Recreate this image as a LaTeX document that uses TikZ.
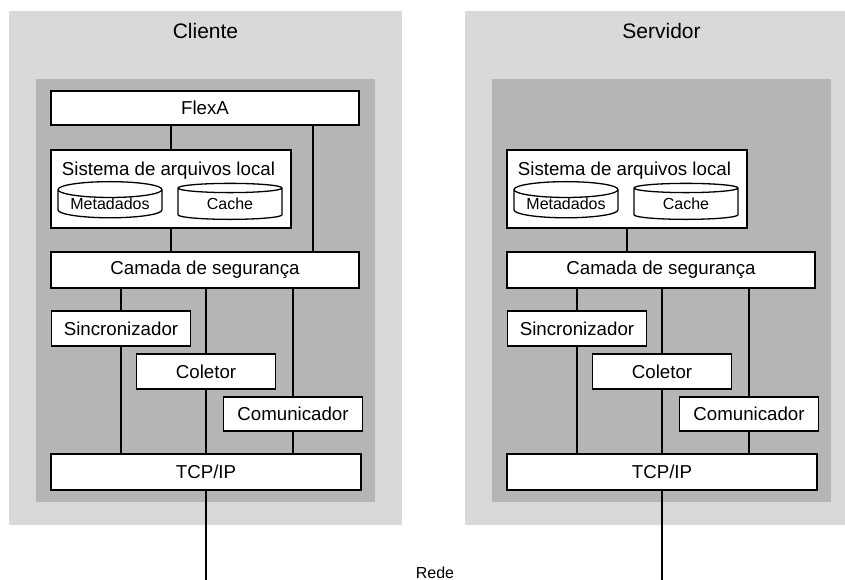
\documentclass[tikz,border=0pt]{standalone}
\usepackage{fontspec}
\setmainfont{Liberation Sans}
\usetikzlibrary{shapes.geometric, calc}
\usepackage{xcolor}

\definecolor{outergray}{HTML}{D9D9D9}
\definecolor{innergray}{HTML}{B5B5B5}

\tikzset{
	box/.style={draw, fill=white, line width=1.3pt, inner sep=0pt, font=\fontsize{18.7}{22}\selectfont},
	disk/.style={cylinder, shape border rotate=90, draw, fill=white, line width=1.3pt, aspect=0.2,
		minimum width=104pt, minimum height=36pt, inner sep=0pt, font=\fontsize{16}{19}\selectfont},
	link/.style={line width=1.4pt},
	title/.style={font=\fontsize{21}{25}\selectfont},
}

\begin{document}
\begin{tikzpicture}[x=1.0pt, y=-1.0pt]
	\useasboundingbox (0,0) rectangle (845,580);

	% Cliente
	\fill [outergray] (9,11) rectangle (402,525);
	\fill [innergray] (36,79) rectangle (375,502);
	\node [title] (cli) at (205.5,31) {Cliente};

	\node [box, minimum width=308pt, minimum height=34pt] (flexC) at (205,108) {FlexA};
	\node [box, minimum width=240pt, minimum height=78pt] (salC) at (171,189) {};
	\node [anchor=base west, font=\fontsize{18.7}{22}\selectfont] (salCt) at ($(salC.north west)+(8,26)$) {Sistema de arquivos local};
	\node [disk] (metaC) at (110,204) {Metadados};
	\node [disk] (cacheC) at (230,204) {Cache};
	\node [box, minimum width=308pt, minimum height=36pt] (camC) at (205,270) {Camada de segurança};
	\node [box, minimum width=139pt, minimum height=35pt] (sincC) at (121,328.5) {Sincronizador};
	\node [box, minimum width=139pt, minimum height=35pt] (colC) at (206,371.5) {Coletor};
	\node [box, minimum width=139pt, minimum height=34pt] (comC) at (293,414) {Comunicador};
	\node [box, minimum width=310pt, minimum height=36pt] (tcpC) at (206,472) {TCP/IP};

	\coordinate (busC) at (313,0);
	\coordinate (redeC) at (206,580);
	\draw [link] (flexC.south -| salC.north) -- (salC.north);
	\draw [link] (flexC.south -| busC) -- (camC.north -| busC);
	\draw [link] (salC.south) -- (salC.south |- camC.north);
	\draw [link] (sincC.north |- camC.south) -- (sincC.north);
	\draw [link] (colC.north |- camC.south) -- (colC.north);
	\draw [link] (comC.north |- camC.south) -- (comC.north);
	\draw [link] (sincC.south) -- (sincC.south |- tcpC.north);
	\draw [link] (colC.south) -- (colC.south |- tcpC.north);
	\draw [link] (comC.south) -- (comC.south |- tcpC.north);
	\draw [link] (tcpC.south) -- (redeC);

	% Servidor
	\fill [outergray] (465,11) rectangle (845,525);
	\fill [innergray] (492,79) rectangle (831,502);
	\node [title] (srv) at (661.5,31) {Servidor};

	\node [box, minimum width=240pt, minimum height=78pt] (salS) at (627,189) {};
	\node [anchor=base west, font=\fontsize{18.7}{22}\selectfont] (salSt) at ($(salS.north west)+(8,26)$) {Sistema de arquivos local};
	\node [disk] (metaS) at (566,204) {Metadados};
	\node [disk] (cacheS) at (686,204) {Cache};
	\node [box, minimum width=308pt, minimum height=36pt] (camS) at (661,270) {Camada de segurança};
	\node [box, minimum width=139pt, minimum height=35pt] (sincS) at (577,328.5) {Sincronizador};
	\node [box, minimum width=139pt, minimum height=35pt] (colS) at (662,371.5) {Coletor};
	\node [box, minimum width=139pt, minimum height=34pt] (comS) at (749,414) {Comunicador};
	\node [box, minimum width=310pt, minimum height=36pt] (tcpS) at (662,472) {TCP/IP};

	\coordinate (redeS) at (662,580);
	\draw [link] (salS.south) -- (salS.south |- camS.north);
	\draw [link] (sincS.north |- camS.south) -- (sincS.north);
	\draw [link] (colS.north |- camS.south) -- (colS.north);
	\draw [link] (comS.north |- camS.south) -- (comS.north);
	\draw [link] (sincS.south) -- (sincS.south |- tcpS.north);
	\draw [link] (colS.south) -- (colS.south |- tcpS.north);
	\draw [link] (comS.south) -- (comS.south |- tcpS.north);
	\draw [link] (tcpS.south) -- (redeS);

	\node [anchor=base, font=\fontsize{16}{19}\selectfont] (rede) at (435,578) {Rede};

\end{tikzpicture}
\end{document}
